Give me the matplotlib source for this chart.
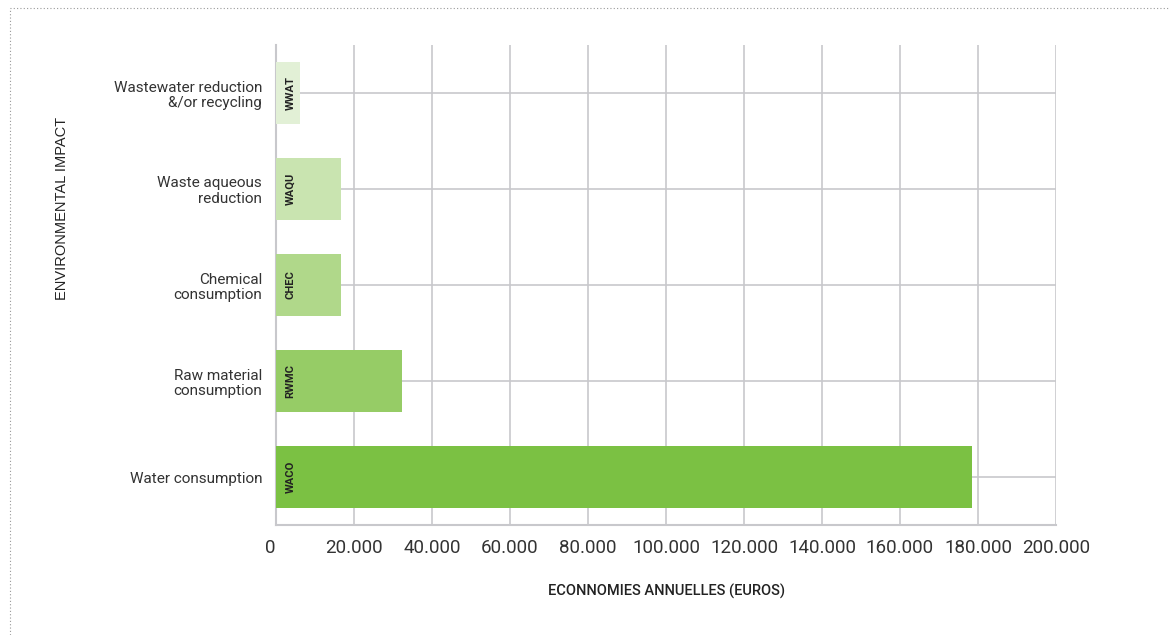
import matplotlib
matplotlib.use("Agg")
import matplotlib.pyplot as plt
from matplotlib.patches import Rectangle
from matplotlib.transforms import ScaledTranslation

# values (euros per year)
categories = ["Water consumption", "Raw material\nconsumption", "Chemical\nconsumption",
              "Waste aqueous\nreduction", "Wastewater reduction\n&/or recycling"]
codes = ["WACO", "RWMC", "CHEC", "WAQU", "WWAT"]
savings = [178500, 32300, 16700, 16700, 6200]
colors = ["#7bc143", "#96cc66", "#b0d88a", "#c9e4b0", "#e2f0d6"]
xticks = list(range(0, 200001, 20000))
xtick_labels = ["0"] + [f"{v // 1000}.000" for v in xticks[1:]]

plt.rcParams['font.family'] = ['Roboto', 'DejaVu Sans']

fig = plt.figure(figsize=(11.7, 6.35), dpi=100)
ax = fig.add_axes([276 / 1170, 1 - 525 / 635, 780 / 1170, 480 / 635])

grid_col = "#c8c8cc"
ypos = list(range(len(categories)))
ax.barh(ypos, savings, height=0.65, color=colors, zorder=3)

for y, code in zip(ypos, codes):
    ax.text(3700, y, code, rotation=90, ha="center", va="center",
            fontsize=8, fontweight="bold", color="#222222", zorder=4)

ax.set_xlim(0, 200000)
ax.set_ylim(-0.5, 4.5)
ax.set_xticks(xticks)
ax.set_xticklabels(xtick_labels, fontsize=13.5, color="#333333")
ax.set_yticks(ypos)
ax.set_yticklabels(categories, fontsize=11, color="#333333", linespacing=1.1)
ax.tick_params(axis="y", length=0, pad=10)
ax.tick_params(axis="x", length=0, pad=10)

# the "0" sits a little left of the axis in the original
zero_lbl = ax.get_xticklabels()[0]
zero_lbl.set_transform(zero_lbl.get_transform() + ScaledTranslation(-0.06, 0, fig.dpi_scale_trans))

ax.grid(True, color=grid_col, linewidth=1.2, zorder=0)
for side in ["top", "right"]:
    ax.spines[side].set_visible(False)
for side in ["left", "bottom"]:
    ax.spines[side].set_color(grid_col)
    ax.spines[side].set_linewidth(1.5)

fig.text(666 / 1170, 1 - 591 / 635, "ECONNOMIES ANNUELLES (EUROS)", ha="center", va="center",
         fontsize=10.5, color="#222222", fontweight="medium")
fig.text(62 / 1170, 1 - 208 / 635, "ENVIRONMENTAL IMPACT", rotation=90, ha="center", va="center",
         fontsize=10.5, color="#222222", family=["Liberation Sans", "DejaVu Sans"])

# dotted frame around the figure
fig.patches.append(Rectangle((10 / 1170, -0.05), 1.2, 1 - 8 / 635 + 0.05, transform=fig.transFigure,
                             fill=False, edgecolor="#999999", linestyle=(0, (1, 2)), linewidth=0.8))

fig.savefig("out.png", dpi=100)
